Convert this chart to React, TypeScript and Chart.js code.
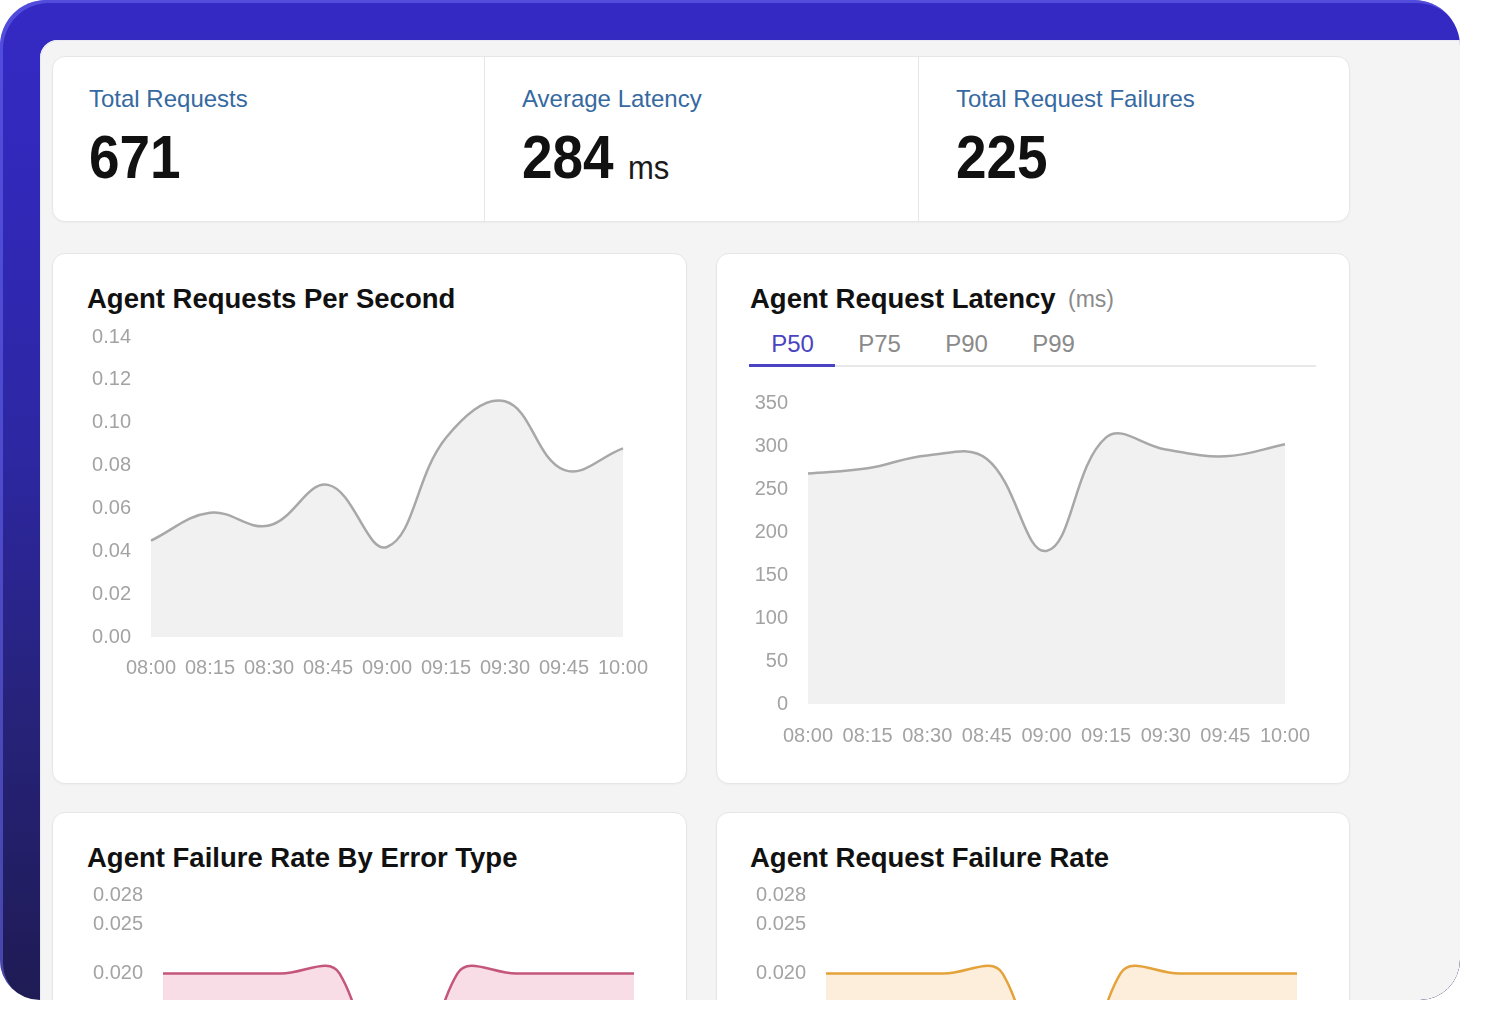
import React, { useEffect, useRef } from 'react';
import { Chart, registerables } from 'chart.js';

Chart.register(...registerables);

// ---- data ----
const timeLabels = ['08:00', '08:15', '08:30', '08:45', '09:00', '09:15', '09:30', '09:45', '10:00'];

const requestsPerSecond = [0.045, 0.058, 0.052, 0.071, 0.042, 0.093, 0.11, 0.078, 0.088];
const latencyP50 = [268, 274, 289, 285, 178, 310, 296, 288, 302];
const failureRateByErrorType = [0.02, 0.02, 0.02, 0.02, 0, 0.02, 0.02, 0.02, 0.02];
const requestFailureRate = [0.02, 0.02, 0.02, 0.02, 0, 0.02, 0.02, 0.02, 0.02];

const rpsTicks = [0, 0.02, 0.04, 0.06, 0.08, 0.1, 0.12, 0.14];
const latencyTicks = [0, 50, 100, 150, 200, 250, 300, 350];
const failureTicks = [0, 0.005, 0.01, 0.015, 0.02, 0.025, 0.028];

const latencyTabs = ['P50', 'P75', 'P90', 'P99'];

const statLabels = ['Total Requests', 'Average Latency', 'Total Request Failures'];
const statValues = ['671', '284', '225'];
const statUnits = ['', 'ms', ''];

const FONT = '"Liberation Sans", Arial, Helvetica, sans-serif';
const TICK_COLOR = '#a3a3a3';

type LineChartProps = {
  values: number[];
  ticks: number[];
  decimals: number;
  line: string;
  fill: string;
  left: number;
  top: number;
  width: number;
  height: number;
  yAxisWidth: number;
  padRight: number;
  xAxisHeight: number;
  xPad: number;
};

function LineChart(p: LineChartProps) {
  const ref = useRef<HTMLCanvasElement>(null);
  useEffect(() => {
    const tickFont = { family: FONT, size: 20 };
    const chart = new Chart(ref.current as HTMLCanvasElement, {
      type: 'line',
      data: {
        labels: timeLabels,
        datasets: [
          {
            data: p.values,
            borderColor: p.line,
            backgroundColor: p.fill,
            fill: 'origin',
            tension: 0.4,
            borderWidth: 2.5,
            pointRadius: 0,
            pointHoverRadius: 0,
          },
        ],
      },
      options: {
        animation: false,
        responsive: false,
        maintainAspectRatio: false,
        events: [],
        layout: { padding: { top: 0, right: p.padRight, left: 0, bottom: 0 } },
        plugins: { legend: { display: false }, tooltip: { enabled: false } },
        scales: {
          x: {
            grid: { display: false, drawTicks: false },
            border: { display: false },
            ticks: { color: TICK_COLOR, font: tickFont, padding: p.xPad, autoSkip: false, maxRotation: 0, minRotation: 0 },
            afterFit: (s: any) => {
              s.height = p.xAxisHeight;
            },
          },
          y: {
            min: 0,
            max: p.ticks[p.ticks.length - 1],
            grid: { display: false, drawTicks: false },
            border: { display: false },
            ticks: {
              color: TICK_COLOR,
              font: tickFont,
              padding: 20,
              autoSkip: false,
              callback: (v: any) => Number(v).toFixed(p.decimals),
            },
            afterBuildTicks: (s: any) => {
              s.ticks = p.ticks.map((v) => ({ value: v }));
            },
            afterFit: (s: any) => {
              s.width = p.yAxisWidth;
            },
          },
        },
      },
    });
    return () => chart.destroy();
  }, []);
  return (
    <canvas
      ref={ref}
      width={p.width}
      height={p.height}
      style={{ position: 'absolute', left: p.left, top: p.top, width: p.width, height: p.height }}
    />
  );
}

// text placed by its baseline (line-height 1 box)
function Text(props: {
  x: number;
  baseline: number;
  size: number;
  color: string;
  bold?: boolean;
  scaleX?: number;
  children: React.ReactNode;
}) {
  const top = props.baseline - 0.8465 * props.size;
  return (
    <div
      style={{
        position: 'absolute',
        left: props.x,
        top,
        fontFamily: FONT,
        fontSize: props.size,
        lineHeight: 1,
        fontWeight: props.bold ? 700 : 400,
        color: props.color,
        whiteSpace: 'nowrap',
        transform: props.scaleX ? `scaleX(${props.scaleX})` : undefined,
        transformOrigin: 'left center',
      }}
    >
      {props.children}
    </div>
  );
}

function Card(props: { left: number; top: number; width: number; height: number; children?: React.ReactNode }) {
  return (
    <div
      style={{
        position: 'absolute',
        left: props.left,
        top: props.top,
        width: props.width,
        height: props.height,
        boxSizing: 'border-box',
        background: '#ffffff',
        border: '1px solid #e6e6e8',
        borderRadius: 13,
        boxShadow: '0 1px 2px rgba(0,0,0,0.03)',
      }}
    >
      {props.children}
    </div>
  );
}

export default function App() {
  const statX = [89, 522, 956];
  return (
    <div style={{ position: 'fixed', left: 0, top: 0, width: 1488, height: 1036, background: '#ffffff', overflow: 'hidden' }}>
      <div
        style={{
          position: 'absolute',
          left: 0,
          top: 0,
          width: 1460,
          height: 1000,
          borderRadius: '46px 46px 40px 40px',
          overflow: 'hidden',
          background: 'linear-gradient(180deg, #3529c4 0%, #3128b8 20%, #2d27a2 45%, #27237c 70%, #1f1b54 100%)',
          boxShadow: 'inset 3px 3px 0 rgba(105,105,240,0.55)',
        }}
      >
        <div
          style={{
            position: 'absolute',
            left: 40,
            top: 40,
            width: 1420,
            height: 960,
            background: '#f4f4f5',
            borderTopLeftRadius: 18,
            borderBottomRightRadius: 40,
            boxShadow: 'inset 1px 1px 0 #e9e9f2',
          }}
        />

        {/* summary stats */}
        <Card left={52} top={56} width={1298} height={166}>
          <div style={{ position: 'absolute', left: 431, top: 0, bottom: 0, width: 1, background: '#e6e6e8' }} />
          <div style={{ position: 'absolute', left: 865, top: 0, bottom: 0, width: 1, background: '#e6e6e8' }} />
        </Card>
        {statLabels.map((l, i) => (
          <Text key={l} x={statX[i]} baseline={107} size={24} color="#36699f">
            {l}
          </Text>
        ))}
        {statValues.map((v, i) => (
          <Text key={v + i} x={statX[i]} baseline={179} size={61} color="#111111" bold scaleX={0.9}>
            {v}
          </Text>
        ))}
        {statUnits.map((u, i) =>
          u ? (
            <Text key={u} x={628} baseline={179} size={33} color="#1a1a1a" scaleX={0.94}>
              {u}
            </Text>
          ) : null
        )}

        {/* chart cards */}
        <Card left={52} top={253} width={635} height={531} />
        <Card left={716} top={253} width={634} height={531} />
        <Card left={52} top={812} width={635} height={531} />
        <Card left={716} top={812} width={634} height={531} />

        <Text x={87} baseline={308} size={27.5} color="#111111" bold>
          Agent Requests Per Second
        </Text>
        <Text x={750} baseline={308} size={27.5} color="#111111" bold>
          Agent Request Latency
        </Text>
        <Text x={1068} baseline={307} size={23} color="#8a8a8a">
          (ms)
        </Text>
        <Text x={87} baseline={867} size={27.5} color="#111111" bold>
          Agent Failure Rate By Error Type
        </Text>
        <Text x={750} baseline={867} size={27.5} color="#111111" bold>
          Agent Request Failure Rate
        </Text>

        {/* latency percentile tabs */}
        <div style={{ position: 'absolute', left: 749, top: 365, width: 567, height: 2, background: '#e8e8ea' }} />
        <div style={{ position: 'absolute', left: 749, top: 364, width: 86, height: 3, background: '#4a43c2' }} />
        {latencyTabs.map((t, i) => (
          <div
            key={t}
            style={{
              position: 'absolute',
              left: 749 + i * 87,
              top: 352.5 - 0.8465 * 24,
              width: 87,
              textAlign: 'center',
              fontFamily: FONT,
              fontSize: 24,
              lineHeight: 1,
              color: i === 0 ? '#4a43c2' : '#8a8a8a',
            }}
          >
            {t}
          </div>
        ))}

        <LineChart
          values={requestsPerSecond}
          ticks={rpsTicks}
          decimals={2}
          line="#a8a8a8"
          fill="#f1f1f1"
          left={72}
          top={305}
          width={600}
          height={391}
          yAxisWidth={79}
          padRight={49}
          xAxisHeight={59}
          xPad={19}
        />
        <LineChart
          values={latencyP50}
          ticks={latencyTicks}
          decimals={0}
          line="#a8a8a8"
          fill="#f1f1f1"
          left={728}
          top={371}
          width={610}
          height={391}
          yAxisWidth={80}
          padRight={53}
          xAxisHeight={58}
          xPad={20}
        />
        <LineChart
          values={failureRateByErrorType}
          ticks={failureTicks}
          decimals={3}
          line="#c4557b"
          fill="#f8dde6"
          left={72}
          top={863}
          width={620}
          height={371}
          yAxisWidth={91}
          padRight={58}
          xAxisHeight={64}
          xPad={19}
        />
        <LineChart
          values={requestFailureRate}
          ticks={failureTicks}
          decimals={3}
          line="#e4a23a"
          fill="#fdeedb"
          left={736}
          top={863}
          width={620}
          height={371}
          yAxisWidth={90}
          padRight={59}
          xAxisHeight={64}
          xPad={19}
        />
      </div>
    </div>
  );
}
